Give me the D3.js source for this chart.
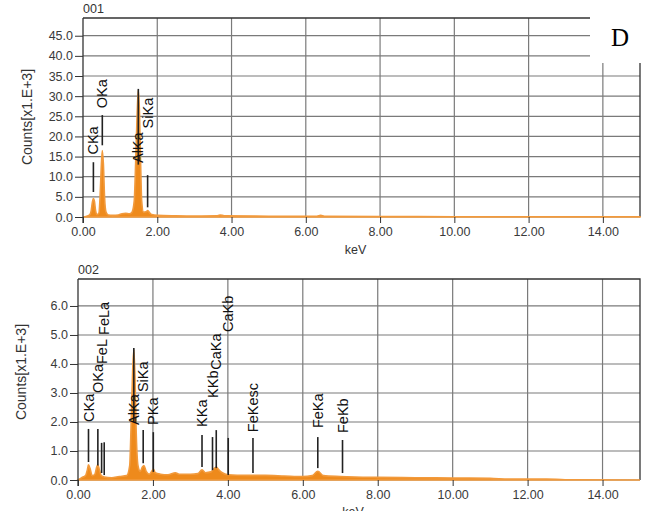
<!DOCTYPE html>
<html>
<head>
<meta charset="utf-8">
<script src="https://cdn.jsdelivr.net/npm/d3@7"></script>
<style>
  body { margin: 0; background: #fff; }
  svg { display: block; font-family: "Liberation Sans", Arial, sans-serif; }
  .tick text { fill: #3a3a3a; font-size: 12.5px; }
  .grid line { stroke: #7a7a7a; stroke-width: 1.2; }
  .marker { stroke: #222; stroke-width: 1.6; }
  .mlabel { font-size: 14.5px; fill: #111; }
</style>
</head>
<body>
<div id="chart"></div>
<script>
// EDS spectra, two panels: 001 and 002 (counts in thousands vs keV)

// panel 001 spectrum [keV, kcounts]
const spec001 = [
  [0.00, 0], [0.10, 0.2], [0.18, 0.5], [0.22, 1.5], [0.25, 3.5], [0.28, 4.6], [0.31, 3.8],
  [0.34, 1.5], [0.38, 0.6], [0.43, 1.0], [0.46, 5], [0.49, 12], [0.52, 16.5], [0.55, 13],
  [0.58, 5], [0.62, 1.2], [0.68, 0.5], [0.80, 0.4], [0.95, 0.5], [1.05, 0.8], [1.15, 0.9],
  [1.25, 0.8], [1.32, 1.2], [1.38, 4], [1.42, 14], [1.46, 26], [1.49, 31.5], [1.52, 26],
  [1.55, 14], [1.58, 4], [1.63, 1.2], [1.70, 1.3], [1.74, 1.6], [1.78, 1.2], [1.85, 0.6],
  [2.0, 0.4], [2.5, 0.3], [3.0, 0.25], [3.6, 0.3], [3.69, 0.5], [3.8, 0.3], [5.0, 0.2],
  [6.3, 0.2], [6.4, 0.4], [6.5, 0.2], [8, 0.1], [10, 0.08], [12, 0.05], [14, 0.03], [15, 0.02]
];

// panel 002 spectrum [keV, kcounts]
const spec002 = [
  [0.00, 0], [0.10, 0.08], [0.20, 0.15], [0.25, 0.35], [0.28, 0.52], [0.32, 0.4], [0.38, 0.15],
  [0.45, 0.2], [0.50, 0.45], [0.53, 0.52], [0.57, 0.35], [0.62, 0.15], [0.70, 0.1], [0.90, 0.08],
  [1.10, 0.12], [1.30, 0.15], [1.38, 0.5], [1.42, 2], [1.46, 3.8], [1.49, 4.5], [1.52, 3.6],
  [1.55, 1.8], [1.60, 0.5], [1.66, 0.3], [1.72, 0.45], [1.76, 0.5], [1.82, 0.3], [1.90, 0.2],
  [1.97, 0.3], [2.01, 0.38], [2.06, 0.25], [2.20, 0.2], [2.40, 0.18], [2.60, 0.25], [2.70, 0.2],
  [3.00, 0.2], [3.20, 0.22], [3.31, 0.35], [3.40, 0.25], [3.55, 0.28], [3.62, 0.38], [3.69, 0.45],
  [3.76, 0.35], [3.85, 0.25], [4.00, 0.18], [4.50, 0.16], [5.00, 0.16], [5.50, 0.14], [6.00, 0.12],
  [6.25, 0.15], [6.40, 0.3], [6.55, 0.15], [7.00, 0.12], [8.00, 0.09], [9.00, 0.08], [10.0, 0.07],
  [11.0, 0.06], [11.5, 0.03], [12.5, 0.03], [13.0, 0.01], [15.0, 0]
];

// peak markers: [label, keV, line from, line to, label bottom]
const markers001 = [
  ['CKa', 0.28, 6.2, 13.6, 15.5],
  ['OKa', 0.52, 17.8, 25.3, 27],
  ['AlKa', 1.49, 13, 31.8, 13.4],
  ['SiKa', 1.74, 2.4, 10.4, 22]
];
const markers002 = [
  ['CKa', 0.28, 0.62, 1.76, 2.0],
  ['OKa', 0.53, 0.5, 1.76, 3.0],
  ['FeL', 0.63, 0.24, 1.28, 4.0],
  ['FeLa', 0.70, 0.17, 1.3, 5.0],
  ['AlKa', 1.49, 2.0, 4.55, 1.9],
  ['SiKa', 1.74, 0.58, 1.72, 3.03],
  ['PKa', 2.01, 0.28, 1.65, 1.9],
  ['KKa', 3.31, 0.45, 1.55, 1.83],
  ['KKb', 3.59, 0.34, 1.48, 2.83],
  ['CaKa', 3.69, 0.41, 1.72, 3.8],
  ['CaKb', 4.01, 0.17, 1.45, 5.1],
  ['FeKesc', 4.67, 0.24, 1.45, 1.65],
  ['FeKa', 6.40, 0.41, 1.48, 1.79],
  ['FeKb', 7.06, 0.24, 1.38, 1.62]
];

const xTicks = [0, 2, 4, 6, 8, 10, 12, 14];
const yTicks001 = [0, 5, 10, 15, 20, 25, 30, 35, 40, 45];
const yTicks002 = [0, 1, 2, 3, 4, 5, 6];

const W = 670, H = 511;
const svg = d3.select('#chart').append('svg').attr('width', W).attr('height', H);

function panel(o) {
  const x = d3.scaleLinear().domain([0, 15]).range([o.left, o.right]);
  const y = d3.scaleLinear().domain([0, o.ymax]).range([o.bottom, o.top]);
  const g = svg.append('g');

  // grid
  const grid = g.append('g').attr('class', 'grid');
  grid.selectAll('line.v').data(xTicks.slice(1)).join('line').attr('class', 'v')
    .attr('x1', d => x(d)).attr('x2', d => x(d)).attr('y1', o.top).attr('y2', o.bottom);
  grid.selectAll('line.h').data(o.yTicks).join('line').attr('class', 'h')
    .attr('x1', o.left).attr('x2', o.right).attr('y1', d => y(d)).attr('y2', d => y(d));

  // frame top/right
  g.append('path').attr('fill', 'none').attr('stroke', '#333').attr('stroke-width', 1.3)
    .attr('d', `M${o.left},${o.top}H${o.right}V${o.bottom}`);

  // spectrum
  const area = d3.area().x(d => x(d[0])).y0(y(0)).y1(d => y(d[1])).curve(d3.curveMonotoneX);
  g.append('path').datum(o.spec).attr('d', area)
    .attr('fill', '#ee8a1c').attr('stroke', '#f29a3c').attr('stroke-width', 1.6);

  // axes
  const yAxis = d3.axisLeft(y).tickValues(o.yTicks).tickFormat(d3.format('.1f')).tickSize(8).tickPadding(2);
  const ya = g.append('g').attr('transform', `translate(${o.left},0)`).call(yAxis);
  ya.select('.domain').attr('stroke', '#333').attr('stroke-width', 1.3)
    .attr('d', `M0,${o.top}V${o.bottom + 6}`);
  ya.selectAll('.tick line').attr('stroke', '#333');

  const xAxis = d3.axisBottom(x).tickValues(xTicks).tickFormat(d3.format('.2f')).tickSize(6).tickPadding(4);
  const xa = g.append('g').attr('transform', `translate(0,${o.bottom})`).call(xAxis);
  xa.select('.domain').remove();
  xa.selectAll('.tick line').attr('stroke', '#333');

  // markers
  const mk = g.append('g');
  mk.selectAll('line').data(o.markers).join('line').attr('class', 'marker')
    .attr('x1', d => x(d[1])).attr('x2', d => x(d[1]))
    .attr('y1', d => y(d[2])).attr('y2', d => y(d[3]));
  mk.selectAll('text').data(o.markers).join('text').attr('class', 'mlabel')
    .attr('transform', d => `translate(${x(d[1])},${y(d[4])}) rotate(-90)`)
    .attr('dy', '0.35em')
    .text(d => d[0]);

  // titles
  g.append('text').attr('x', o.left).attr('y', o.top - 5).attr('font-size', 12.5).attr('fill', '#333').text(o.name);
  g.append('text').attr('transform', `translate(${o.ylabX},${o.ylabY}) rotate(-90)`)
    .attr('text-anchor', 'middle').attr('dy', '0.35em').attr('font-size', 14).attr('fill', '#333')
    .text('Counts[x1.E+3]');
  g.append('text').attr('x', (o.left + o.right) / 2 - 6).attr('y', o.keVY)
    .attr('text-anchor', 'middle').attr('font-size', 12.5).attr('fill', '#333').text('keV');
}

panel({ name: '001', spec: spec001, markers: markers001, yTicks: yTicks001, ymax: 49.4,
  left: 83, right: 640, top: 18, bottom: 217, ylabX: 27, ylabY: 117, keVY: 254 });
panel({ name: '002', spec: spec002, markers: markers002, yTicks: yTicks002, ymax: 6.93,
  left: 78, right: 640, top: 279, bottom: 480, ylabX: 21, ylabY: 372, keVY: 516 });

// "D" panel tag box
svg.append('rect').attr('x', 590).attr('y', 0).attr('width', 80).attr('height', 63).attr('fill', '#fff');
svg.append('text').attr('x', 611).attr('y', 46).attr('font-family', '"Liberation Serif", "Times New Roman", serif')
  .attr('font-size', 25).attr('fill', '#000').text('D');
</script>
</body>
</html>
